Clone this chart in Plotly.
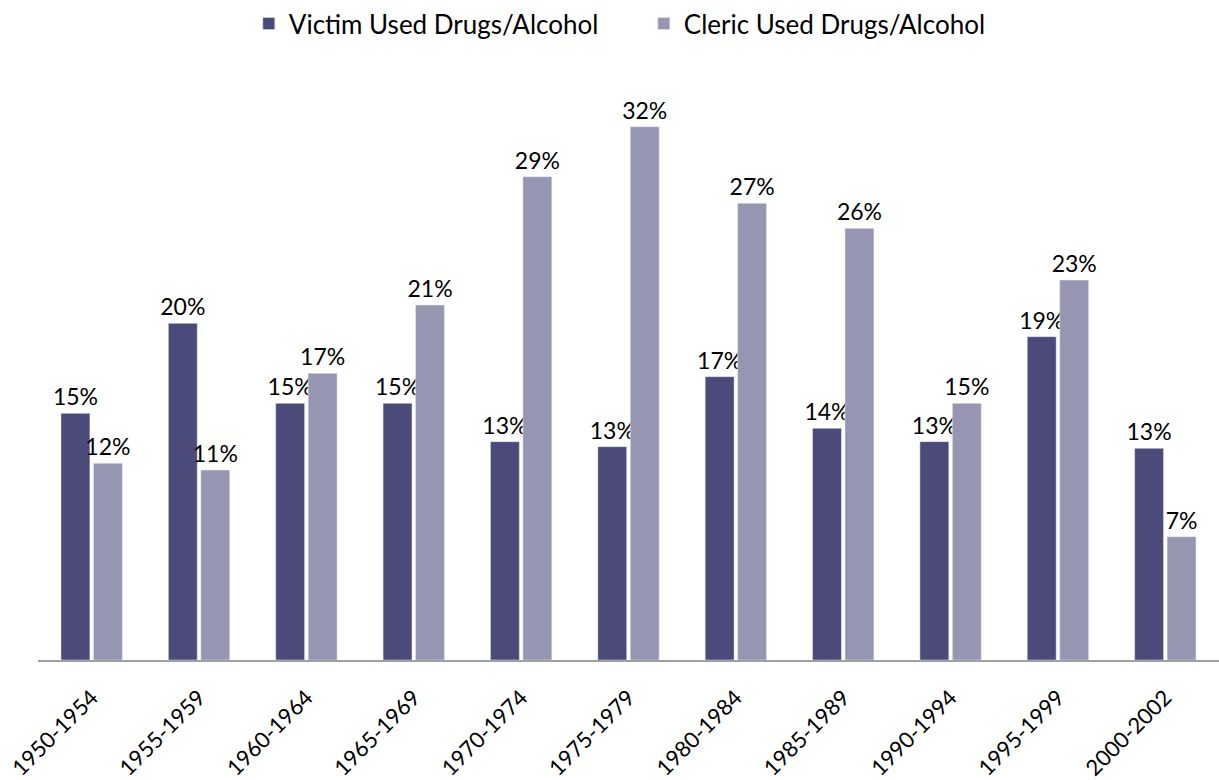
import plotly.graph_objects as go

categories = ["1950-1954", "1955-1959", "1960-1964", "1965-1969", "1970-1974",
              "1975-1979", "1980-1984", "1985-1989", "1990-1994", "1995-1999", "2000-2002"]
victim = [14.8, 20.2, 15.4, 15.4, 13.1, 12.8, 17.0, 13.9, 13.1, 19.4, 12.7]
cleric = [11.8, 11.4, 17.2, 21.3, 29.0, 32.0, 27.4, 25.9, 15.4, 22.8, 7.4]

FONT = "Lato"

fig = go.Figure()
fig.add_trace(go.Bar(name="Victim Used Drugs/Alcohol", x=categories, y=victim,
                     marker=dict(color="#4a4a7b"),
                     texttemplate="%{y:.0f}%", textposition="outside",
                     constraintext="none", cliponaxis=False,
                     textfont=dict(size=23, color="#000000", family=FONT)))
fig.add_trace(go.Bar(name="Cleric Used Drugs/Alcohol", x=categories, y=cleric,
                     marker=dict(color="#9696b2"),
                     texttemplate="%{y:.0f}%", textposition="outside",
                     constraintext="none", cliponaxis=False,
                     textfont=dict(size=23, color="#000000", family=FONT)))

fig.update_layout(
    width=1219, height=780,
    margin=dict(l=38, r=0, t=20, b=120),
    paper_bgcolor="white", plot_bgcolor="white",
    barmode="group", bargap=0.395, bargroupgap=0.11,
    font=dict(family=FONT, size=23, color="#000000"),
    showlegend=True,
    legend=dict(orientation="h", x=0.1785, xanchor="left", y=1.031, yanchor="top",
                font=dict(size=26, family=FONT), itemwidth=30,
                entrywidth=350, entrywidthmode="pixels"),
    xaxis=dict(showline=True, linecolor="#a0a0a0", linewidth=2, ticks="",
               tickangle=-45, tickfont=dict(size=22, family=FONT), automargin=False,
               ticklabelstandoff=14),
    yaxis=dict(range=[0, 38.4], visible=False, showgrid=False, automargin=False),
)

fig.write_html("out.html", config={"displayModeBar": False},
               post_script="document.body.style.margin='0';")
